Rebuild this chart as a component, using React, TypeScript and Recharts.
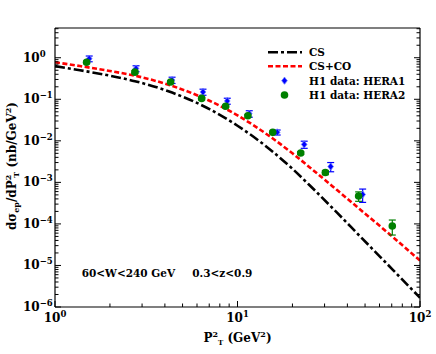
import React from "react";
import { ComposedChart, Line, Scatter, ErrorBar, XAxis, YAxis } from "recharts";

// theory curves (CS and CS+CO), sampled along P_T^2
const curveX = [1, 1.37, 2, 2.74, 4.38, 7.07, 10, 15, 20, 25, 35, 47, 71, 100];
const csY = [0.63, 0.5, 0.37, 0.273, 0.145, 0.057, 0.0231, 0.0063, 0.00212, 8.3e-4, 1.89e-4, 5.0e-5, 7.85e-6, 1.67e-6];
const cscoY = [0.78, 0.63, 0.48, 0.37, 0.21, 0.091, 0.041, 0.0129, 0.005, 0.00226, 6.6e-4, 2.22e-4, 4.84e-5, 1.31e-5];

// H1 data
const hera1X = [1.54, 2.78, 4.38, 6.47, 8.79, 11.6, 16.5, 23.2, 32.4, 48.5];
const hera1Y = [0.95, 0.55, 0.29, 0.15, 0.091, 0.045, 0.016, 0.0082, 0.0024, 0.00051];
const hera1Err = [0.15, 0.09, 0.05, 0.025, 0.015, 0.008, 0.0022, 0.0016, 0.0006, 0.00018];

const hera2X = [1.49, 2.74, 4.3, 6.36, 8.61, 11.4, 15.6, 22.2, 30.3, 46.1, 70.5];
const hera2Y = [0.78, 0.45, 0.26, 0.105, 0.068, 0.04, 0.016, 0.0051, 0.00173, 0.00047, 8.9e-5];
const hera2Err = [0.06, 0.035, 0.02, 0.008, 0.005, 0.003, 0.0012, 0.0004, 0.0002, 0.00012, 3.5e-5];

// axes
const xMajorExps = [0, 1, 2];
const yMajorExps = [-6, -5, -4, -3, -2, -1, 0];
const minorSteps = [2, 3, 4, 5, 6, 7, 8, 9];
const yMax = 5.2;

const FONT = "'DejaVu Serif', serif";

const csData = curveX.map((x, i) => ({ x, y: csY[i] }));
const cscoData = curveX.map((x, i) => ({ x, y: cscoY[i] }));
const hera1Data = hera1X.map((x, i) => ({ x, y: hera1Y[i], err: hera1Err[i] }));
const hera2Data = hera2X.map((x, i) => ({ x, y: hera2Y[i], err: hera2Err[i] }));

function logTicks(exps: number[], max: number) {
  const out: number[] = [];
  exps.forEach((e) => {
    out.push(Math.pow(10, e));
    minorSteps.forEach((m) => {
      const v = m * Math.pow(10, e);
      if (v <= max) out.push(v);
    });
  });
  return out.filter((v) => v <= max);
}

const xTicks = logTicks(xMajorExps, 100);
const yTicks = logTicks(yMajorExps, yMax);

const isMajor = (v: number) => Math.abs(Math.log10(v) - Math.round(Math.log10(v))) < 1e-6;
const expOf = (v: number) => {
  const e = Math.round(Math.log10(v));
  return e < 0 ? "\u2212" + Math.abs(e) : String(e);
};

const MAJ = 6;
const MIN = 3.5;

function BottomTick({ x, y, payload }: any) {
  const v = payload.value;
  const major = isMajor(v);
  return (
    <g>
      <line x1={x} x2={x} y1={y} y2={y - (major ? MAJ : MIN)} stroke="#000" strokeWidth={1} />
      {major && (
        <text x={x} y={y + 15} textAnchor="middle" fontFamily={FONT} fontWeight="bold" fontSize={12} fill="#000">
          <tspan>10</tspan>
          <tspan dy={-5} fontSize={8.5}>{expOf(v)}</tspan>
        </text>
      )}
    </g>
  );
}

function TopTick({ x, y, payload }: any) {
  const major = isMajor(payload.value);
  return <line x1={x} x2={x} y1={y} y2={y + (major ? MAJ : MIN)} stroke="#000" strokeWidth={1} />;
}

function LeftTick({ x, y, payload }: any) {
  const v = payload.value;
  const major = isMajor(v);
  return (
    <g>
      <line x1={x} x2={x + (major ? MAJ : MIN)} y1={y} y2={y} stroke="#000" strokeWidth={1} />
      {major && (
        <text x={x - 32} y={y + 4} textAnchor="start" fontFamily={FONT} fontWeight="bold" fontSize={12} fill="#000">
          <tspan>10</tspan>
          <tspan dy={-5} fontSize={8.5}>{expOf(v)}</tspan>
        </text>
      )}
    </g>
  );
}

function RightTick({ x, y, payload }: any) {
  const major = isMajor(payload.value);
  return <line x1={x} x2={x - (major ? MAJ : MIN)} y1={y} y2={y} stroke="#000" strokeWidth={1} />;
}

function Diamond({ cx, cy }: any) {
  if (cx == null || cy == null) return null;
  return (
    <polygon
      points={`${cx},${cy - 3.6} ${cx + 2.8},${cy} ${cx},${cy + 3.6} ${cx - 2.8},${cy}`}
      fill="#0000ff"
      stroke="#6a7dff"
      strokeWidth={0.8}
    />
  );
}

function Dot({ cx, cy }: any) {
  if (cx == null || cy == null) return null;
  return <circle cx={cx} cy={cy} r={3.8} fill="#008000" />;
}

const textStyle = { fontFamily: FONT, fontWeight: "bold" as const, fill: "#000" };

export default function App() {
  return (
    <div style={{ position: "relative", width: 436, height: 354, background: "#fff" }}>
      <style>{"body{margin:0}"}</style>
      <ComposedChart width={436} height={354} margin={{ top: 0, right: 0, bottom: 0, left: 0 }}>
        <XAxis
          xAxisId="b"
          dataKey="x"
          type="number"
          scale="log"
          domain={[1, 100]}
          allowDataOverflow
          ticks={xTicks}
          interval={0}
          tick={<BottomTick />}
          tickLine={false}
          tickSize={0}
          tickMargin={0}
          height={47}
          axisLine={{ stroke: "#000", strokeWidth: 1.2 }}
        />
        <XAxis
          xAxisId="t"
          orientation="top"
          type="number"
          scale="log"
          domain={[1, 100]}
          allowDataOverflow
          ticks={xTicks}
          interval={0}
          tick={<TopTick />}
          tickLine={false}
          tickSize={0}
          tickMargin={0}
          height={28}
          axisLine={{ stroke: "#000", strokeWidth: 1.2 }}
        />
        <YAxis
          yAxisId="l"
          dataKey="y"
          type="number"
          scale="log"
          domain={[1e-6, yMax]}
          allowDataOverflow
          ticks={yTicks}
          interval={0}
          tick={<LeftTick />}
          tickLine={false}
          tickSize={0}
          tickMargin={0}
          width={55}
          axisLine={{ stroke: "#000", strokeWidth: 1.2 }}
        />
        <YAxis
          yAxisId="r"
          orientation="right"
          type="number"
          scale="log"
          domain={[1e-6, yMax]}
          allowDataOverflow
          ticks={yTicks}
          interval={0}
          tick={<RightTick />}
          tickLine={false}
          tickSize={0}
          tickMargin={0}
          width={16}
          axisLine={{ stroke: "#000", strokeWidth: 1.2 }}
        />
        <Line
          xAxisId="b"
          yAxisId="l"
          data={csData}
          dataKey="y"
          type="monotone"
          stroke="#000"
          strokeWidth={2.6}
          strokeDasharray="10 3 3 3"
          dot={false}
          activeDot={false}
          isAnimationActive={false}
        />
        <Line
          xAxisId="b"
          yAxisId="l"
          data={cscoData}
          dataKey="y"
          type="monotone"
          stroke="#ff0000"
          strokeWidth={2.6}
          strokeDasharray="5 2.5"
          dot={false}
          activeDot={false}
          isAnimationActive={false}
        />
        <Scatter xAxisId="b" yAxisId="l" data={hera1Data} dataKey="y" shape={<Diamond />} isAnimationActive={false}>
          <ErrorBar dataKey="err" direction="y" width={3.5} stroke="#0000ff" strokeWidth={1.2} />
        </Scatter>
        <Scatter xAxisId="b" yAxisId="l" data={hera2Data} dataKey="y" shape={<Dot />} isAnimationActive={false}>
          <ErrorBar dataKey="err" direction="y" width={3.5} stroke="#008000" strokeWidth={1.2} />
        </Scatter>
      </ComposedChart>
      <svg width={436} height={354} style={{ position: "absolute", left: 0, top: 0, pointerEvents: "none" }}>
        {/* legend */}
        <line x1={268} x2={302} y1={52.3} y2={52.3} stroke="#000" strokeWidth={2.6} strokeDasharray="10 3 3 3" />
        <line x1={268} x2={302} y1={66.3} y2={66.3} stroke="#ff0000" strokeWidth={2.6} strokeDasharray="5 2.5" />
        <Diamond cx={284.5} cy={80.7} />
        <Dot cx={284.5} cy={95} />
        <text x={309} y={56} fontSize={10.5} {...textStyle}>CS</text>
        <text x={309} y={70} fontSize={10.5} {...textStyle}>CS+CO</text>
        <text x={309} y={84.5} fontSize={10.5} {...textStyle}>H1 data: HERA1</text>
        <text x={309} y={98.8} fontSize={10.5} {...textStyle}>H1 data: HERA2</text>
        {/* kinematic range */}
        <text x={81.7} y={276.5} fontSize={10.5} {...textStyle}>60&lt;W&lt;240 GeV</text>
        <text x={192.3} y={276.5} fontSize={10.5} {...textStyle}>0.3&lt;z&lt;0.9</text>
        {/* axis titles */}
        <text x={237.5} y={342} textAnchor="middle" fontSize={12} {...textStyle}>
          <tspan>P</tspan>
          <tspan dy={-5} fontSize={8}>2</tspan>
          <tspan dy={8} fontSize={7}>T</tspan>
          <tspan dy={-3}> (GeV</tspan>
          <tspan dy={-5} fontSize={8}>2</tspan>
          <tspan dy={5}>)</tspan>
        </text>
        <text transform="translate(16,166) rotate(-90)" textAnchor="middle" fontSize={12} {...textStyle}>
          <tspan>d{"\u03c3"}</tspan>
          <tspan dy={3} fontSize={8}>ep</tspan>
          <tspan dy={-3}>/dP</tspan>
          <tspan dy={-5} fontSize={8}>2</tspan>
          <tspan dx={-3} dy={8} fontSize={8}>T</tspan>
          <tspan dy={-3}> (nb/GeV</tspan>
          <tspan dy={-5} fontSize={8}>2</tspan>
          <tspan dy={5}>)</tspan>
        </text>
      </svg>
    </div>
  );
}
